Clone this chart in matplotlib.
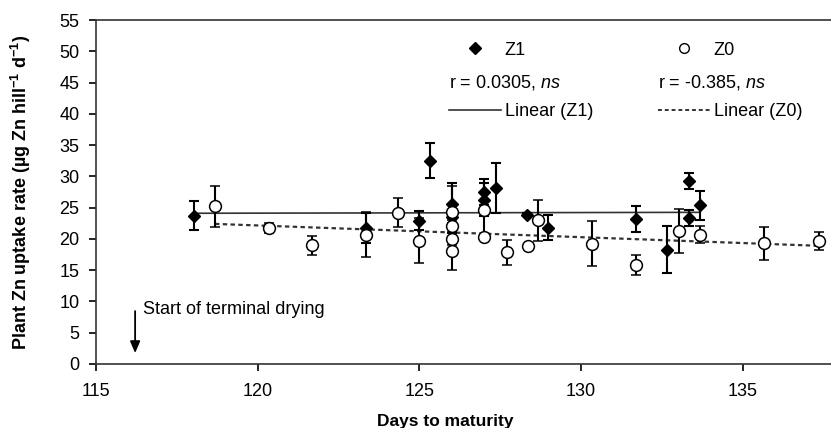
import numpy as np
import matplotlib
matplotlib.use("Agg")
import matplotlib.pyplot as plt
from matplotlib.lines import Line2D

plt.rcParams['font.family'] = ['Liberation Sans', 'DejaVu Sans']
plt.rcParams['mathtext.fontset'] = 'custom'
plt.rcParams['mathtext.rm'] = 'Liberation Sans'
plt.rcParams['mathtext.it'] = 'Liberation Sans:italic'
plt.rcParams['mathtext.bf'] = 'Liberation Sans:bold'

# Z1 (diamonds): days to maturity, uptake rate, error
z1_days = [118.04, 123.35, 124.99, 125.33, 126.02, 126.02, 127.0, 127.0, 127.36,
           128.34, 128.99, 131.7, 132.67, 133.35, 133.35, 133.69]
z1_rate = [23.7, 21.8, 22.9, 32.5, 25.6, 23.5, 27.5, 26.3, 28.2,
           23.9, 21.8, 23.2, 18.3, 29.3, 23.3, 25.4]
z1_err = [2.3, 2.4, 1.5, 2.8, 3.4, 1.0, 2.0, 2.6, 4.0,
          0.3, 2.0, 2.1, 3.8, 1.3, 1.3, 2.3]

# Z0 (open circles)
z0_days = [118.68, 120.35, 121.69, 123.35, 124.33, 124.99, 126.02, 126.02, 126.02,
           126.02, 127.0, 127.0, 127.7, 128.35, 128.68, 130.35, 131.7, 133.02,
           133.69, 135.67, 137.35]
z0_rate = [25.2, 21.8, 19.0, 20.7, 24.2, 19.7, 24.3, 22.0, 20.0,
           18.1, 24.6, 20.3, 17.9, 18.8, 23.0, 19.2, 15.9, 21.3,
           20.7, 19.3, 19.7]
z0_err = [3.3, 0.8, 1.5, 3.6, 2.3, 3.6, 4.1, 1.0, 1.0,
          3.0, 4.3, 0.5, 2.0, 0.4, 3.3, 3.6, 1.6, 3.5,
          1.3, 2.6, 1.4]

# linear trend lines (start/end)
z1_trend_x = [118.04, 133.69]
z1_trend_y = [24.1, 24.25]
z0_trend_x = [118.68, 137.35]
z0_trend_y = [22.4, 18.9]

fig = plt.figure(figsize=(8.31, 4.28), dpi=100)
ax = fig.add_axes([96/831, 64/428, 735/831, 344/428])

ax.plot(z1_trend_x, z1_trend_y, color='#333333', ls='-', lw=1.2, zorder=1)
ax.plot(z0_trend_x, z0_trend_y, color='#333333', ls=(0, (2, 1.5)), lw=1.6, zorder=1)

ax.errorbar(z1_days, z1_rate, yerr=z1_err, fmt='D', ms=6.5, mfc='black', mec='black',
            ecolor='black', elinewidth=1.5, capsize=3.3, capthick=1.5, zorder=3)
ax.errorbar(z0_days, z0_rate, yerr=z0_err, fmt='o', ms=8.5, mfc='white', mec='black',
            mew=1.1, ecolor='black', elinewidth=1.5, capsize=3.3, capthick=1.5, zorder=4)

ax.set_xlim(115, 115 + 735/32.33)
ax.set_ylim(0, 55)
ax.set_xticks([115, 120, 125, 130, 135])
ax.set_yticks(np.arange(0, 56, 5))
ax.tick_params(axis='both', direction='out', length=5, width=1.2, labelsize=13)
ax.tick_params(axis='x', pad=9)
ax.tick_params(axis='y', pad=7)
ax.spines['right'].set_visible(False)
for s in ['left', 'bottom', 'top']:
    ax.spines[s].set_linewidth(1.2)
    ax.spines[s].set_color('#333333')

ax.set_xlabel('Days to maturity', fontsize=12.5, fontweight='bold')
ax.xaxis.set_label_coords(0.475, -0.145)
ax.set_ylabel(r'Plant Zn uptake rate (µg Zn hill$^{\mathbf{-1}}$ d$^{\mathbf{-1}}$)',
              fontsize=13, fontweight='bold')
ax.yaxis.set_label_coords(-0.086, 0.5)

# arrow for start of terminal drying
ax.annotate('', xy=(116.21, 1.3), xytext=(116.21, 8.9),
            arrowprops=dict(arrowstyle='-|>,head_width=0.3,head_length=0.7',
                            color='black', lw=1.3))
ax.text(116.46, 8.7, 'Start of terminal drying', fontsize=13, va='center', ha='left')

# legend rows
h_z1 = Line2D([], [], ls='none', marker='D', ms=6, mfc='black', mec='black')
h_z0 = Line2D([], [], ls='none', marker='o', ms=7, mfc='white', mec='black', mew=1.0)
h_l1 = Line2D([], [], ls='-', color='#333333', lw=1.2)
h_l0 = Line2D([], [], ls=(0, (2, 1.5)), color='#333333', lw=1.4)

leg1 = ax.legend([h_z1, h_l1], ['Z1', 'Linear (Z1)'], loc='upper left',
                 bbox_to_anchor=(0.480, 0.937), frameon=False, fontsize=13,
                 handlelength=2.9, handletextpad=0.2, borderpad=0, borderaxespad=0,
                 labelspacing=2.45)
ax.add_artist(leg1)
ax.legend([h_z0, h_l0], ['Z0', 'Linear (Z0)'], loc='upper left',
          bbox_to_anchor=(0.764, 0.937), frameon=False, fontsize=13,
          handlelength=2.9, handletextpad=0.2, borderpad=0, borderaxespad=0,
          labelspacing=2.45)
ax.text(0.480, (364-82)/344, r'r = 0.0305, $\mathit{ns}$', transform=ax.transAxes,
        fontsize=13, va='center', ha='left')
ax.text(0.764, (364-82)/344, r'r = -0.385, $\mathit{ns}$', transform=ax.transAxes,
        fontsize=13, va='center', ha='left')

fig.savefig('out.png', dpi=100)
